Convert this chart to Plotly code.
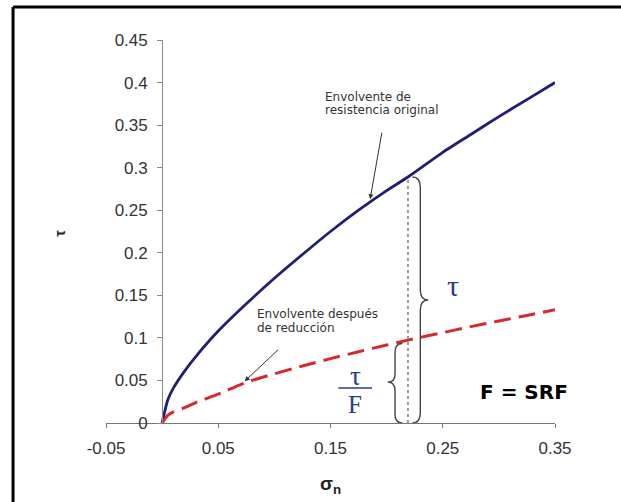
import plotly.graph_objects as go

# Normal stress values (sigma_n) at which both envelopes are sampled
sigma_n = [0.0, 0.005, 0.01, 0.02, 0.03, 0.05, 0.075, 0.1, 0.125, 0.15,
           0.175, 0.2, 0.219, 0.25, 0.275, 0.3, 0.325, 0.35]

# Original strength envelope (tau)
tau_original = [0.0, 0.027, 0.041, 0.061, 0.078, 0.108, 0.140, 0.170, 0.198,
                0.225, 0.250, 0.273, 0.289, 0.318, 0.339, 0.360, 0.380, 0.400]

# Envelope after strength reduction (tau / F)
tau_reduced = [0.0, 0.009, 0.013, 0.018, 0.024, 0.034, 0.0477, 0.0578, 0.067,
               0.0756, 0.0838, 0.0916, 0.0974, 0.1062, 0.1132, 0.1199, 0.1264, 0.133]

x_ticks = [-0.05, 0.05, 0.15, 0.25, 0.35]
y_ticks = [0, 0.05, 0.1, 0.15, 0.2, 0.25, 0.3, 0.35, 0.4, 0.45]

# Section where tau and tau/F are compared
i_ref = sigma_n.index(0.219)
s_ref = sigma_n[i_ref]
t_top = tau_original[i_ref]
t_low = tau_reduced[i_ref]

BLUE = "#1f1f78"
RED = "#d9282d"
NAVY = "#2b3a8f"
GREY_TXT = "#333333"
LABEL_FONT = dict(family="DejaVu Sans", size=12, color=GREY_TXT)

fig = go.Figure()

fig.add_trace(go.Scatter(x=sigma_n, y=tau_original, mode="lines",
                         line=dict(color=BLUE, width=2.8, shape="spline", smoothing=0.6),
                         hoverinfo="skip"))
fig.add_trace(go.Scatter(x=sigma_n, y=tau_reduced, mode="lines",
                         line=dict(color=RED, width=3, dash="17px,8px", shape="spline", smoothing=0.6),
                         hoverinfo="skip"))

# Dotted vertical section line
fig.add_trace(go.Scatter(x=[s_ref, s_ref], y=[0, t_top], mode="lines",
                         line=dict(color="#9a9a9a", width=2, dash="dot"), hoverinfo="skip"))


def brace_path(x_base, x_tip, y_top, y_bot, y_mid, r):
    """Curly brace from y_top to y_bot, pointing from x_base toward x_tip."""
    xm = (x_base + x_tip) / 2
    return (f"M {x_base},{y_top} Q {xm},{y_top} {xm},{y_top - r} "
            f"L {xm},{y_mid + r} Q {xm},{y_mid} {x_tip},{y_mid} "
            f"Q {xm},{y_mid} {xm},{y_mid - r} "
            f"L {xm},{y_bot + r} Q {xm},{y_bot} {x_base},{y_bot}")


# Large brace: full strength tau
fig.add_shape(type="path", xref="x", yref="y",
              path=brace_path(s_ref + 0.004, s_ref + 0.018, t_top, 0, t_top / 2, 0.012),
              line=dict(color="#444444", width=1.4))
# Small brace: reduced strength tau/F
fig.add_shape(type="path", xref="x", yref="y",
              path=brace_path(s_ref - 0.005, s_ref - 0.018, t_low - 0.004, 0, 0.048, 0.010),
              line=dict(color="#444444", width=1.4))

# Fraction bar for tau/F
fig.add_shape(type="line", xref="x", yref="y", x0=0.157, x1=0.187, y0=0.041, y1=0.041,
              line=dict(color=NAVY, width=1.5))

# Outer frame: only its top and left edges fall inside the canvas
FRAME_L, FRAME_T = -0.207, 1.086
fig.add_shape(type="line", xref="paper", yref="paper", x0=FRAME_L, x1=1.3, y0=FRAME_T, y1=FRAME_T,
              line=dict(color="black", width=3))
fig.add_shape(type="line", xref="paper", yref="paper", x0=FRAME_L, x1=FRAME_L, y0=-0.4, y1=FRAME_T,
              line=dict(color="black", width=3))

ann = [
    dict(x=0.1434, y=0.3835, xref="x", yref="y", xanchor="left", yanchor="middle",
         text="Envolvente de", showarrow=False, font=LABEL_FONT),
    dict(x=0.1434, y=0.368, xref="x", yref="y", xanchor="left", yanchor="middle",
         text="resistencia original", showarrow=False, font=LABEL_FONT),
    dict(x=0.083, y=0.1286, xref="x", yref="y", xanchor="left", yanchor="middle",
         text="Envolvente después", showarrow=False, font=LABEL_FONT),
    dict(x=0.083, y=0.1122, xref="x", yref="y", xanchor="left", yanchor="middle",
         text="de reducción", showarrow=False, font=LABEL_FONT),
    dict(x=0.1853, y=0.263, xref="x", yref="y", text="", showarrow=True,
         ax=12, ay=-68, arrowhead=2, arrowsize=1, arrowwidth=1, arrowcolor="#333333"),
    dict(x=0.0735, y=0.049, xref="x", yref="y", text="", showarrow=True,
         ax=35, ay=-33, arrowhead=2, arrowsize=1, arrowwidth=1, arrowcolor="#333333"),
    dict(x=0.259, y=0.162, xref="x", yref="y", text="τ", showarrow=False,
         font=dict(family="Liberation Serif", size=30, color=NAVY)),
    dict(x=0.172, y=0.055, xref="x", yref="y", text="τ", showarrow=False,
         font=dict(family="Liberation Serif", size=27, color=NAVY)),
    dict(x=0.172, y=0.0215, xref="x", yref="y", text="F", showarrow=False,
         font=dict(family="Liberation Serif", size=25, color=NAVY)),
    dict(x=0.3225, y=0.036, xref="x", yref="y", text="F = SRF", showarrow=False,
         font=dict(family="DejaVu Sans", size=20, color="black", weight="bold")),
    dict(x=0.5, y=-0.199, xref="paper", yref="paper", text="σ<sub>n</sub>", showarrow=False,
         font=dict(family="Liberation Sans", size=19, color="#222222", weight="bold")),
    dict(x=-0.125, y=0.497, xref="paper", yref="paper", text="τ", showarrow=False, textangle=-90,
         font=dict(family="Liberation Sans", size=14, color="#222222", weight="bold")),
]

fig.update_layout(
    width=621, height=502,
    margin=dict(l=106, r=66, t=40, b=79),
    paper_bgcolor="white", plot_bgcolor="white",
    showlegend=False,
    annotations=ann,
    xaxis=dict(range=[-0.05, 0.35], tickvals=x_ticks, ticktext=[f"{v:g}" for v in x_ticks],
               showgrid=False, zeroline=False, showline=True, linecolor="#777777", linewidth=1,
               ticks="outside", ticklen=4, tickcolor="#777777",
               tickfont=dict(family="Liberation Sans", size=17, color=GREY_TXT),
               ticklabelstandoff=6),
    yaxis=dict(range=[0, 0.45], tickvals=y_ticks, ticktext=[f"{v:g}" for v in y_ticks],
               anchor="free", position=0.125,
               showgrid=False, zeroline=False, showline=True, linecolor="#888888", linewidth=1,
               ticks="outside", ticklen=5, tickcolor="#888888",
               tickfont=dict(family="Liberation Sans", size=17, color=GREY_TXT),
               ticklabelstandoff=6),
)

fig.write_html("out.html")
